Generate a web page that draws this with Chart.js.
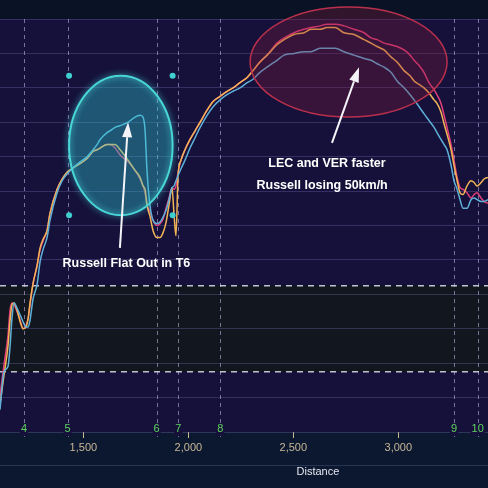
<!DOCTYPE html>
<html>
<head>
<meta charset="utf-8">
<script src="https://cdn.jsdelivr.net/npm/chart.js@4.4.1/dist/chart.umd.min.js"></script>
<style>
  html, body { margin: 0; padding: 0; background: #0b1830; }
  #wrap { width: 488px; height: 488px; }
</style>
</head>
<body>
<div id="wrap"><canvas id="speedChart" width="488" height="488"></canvas></div>
<script>
// Telemetry data (distance in m, speed in km/h)
const distance = [1103,1122,1141,1151,1160,1170,1184,1199,1213,1227,1237,1246,1260,1280,1294,1308,1327,1341,1375,1399,
  1422,1446,1484,1518,1546,1565,1580,1613,1627,1651,1675,1713,1746,1770,1784,1794,1803,1818,1832,1851,
  1865,1880,1894,1908,1922,1932,1941,1951,1965,1984,2008,2032,2056,2089,2118,2151,2184,2213,2246,2280,
  2308,2341,2375,2422,2456,2503,2551,2584,2627,2660,2699,2741,2789,2837,2870,2899,2932,2965,2994,3027,
  3056,3075,3099,3122,3146,3170,3184,3203,3218,3232,3251,3265,3280,3294,3308,3327,3346,3361,3375,3394,
  3408,3427];
const lecSpeed = [101,119,136,151,155,154,150,145,140,142,146,154,166,177,186,191,197,207,221,227,
  230,233,236,239,243,244,245,247,247,245,241,237,232,227,223,219,212,208,203,200,
  201,204,210,216,222,221,223,231,238,244,250,255,260,267,272,275,278,280,283,286,
  290,295,299,306,309,312,314,315,316,317,317,316,314,312,309,308,306,305,304,302,
  299,296,293,289,283,279,276,271,264,257,247,238,228,222,221,219,216,218,219,216,
  214,213];
const verSpeed = [96,113,130,145,154,155,151,144,140,141,146,155,166,177,187,192,197,207,221,227,
  231,233,236,239,243,244,245,247,247,247,244,238,232,228,223,221,212,205,197,193,
  193,196,202,212,222,206,194,229,238,244,250,255,260,267,272,275,278,280,283,286,
  290,295,299,305,308,311,312,314,314,315,315,312,311,308,306,304,302,298,295,290,
  287,284,282,280,277,273,271,266,259,253,244,235,226,219,218,223,226,225,223,225,
  227,228];
const rusSpeed = [93,115,118,130,146,155,152,148,144,141,141,145,157,166,179,186,193,203,219,226,
  230,233,237,240,244,247,250,254,255,257,258,260,263,264,263,255,232,211,203,201,
  202,205,209,215,222,223,226,229,233,238,245,251,257,264,269,273,276,278,280,283,
  285,289,292,296,299,300,301,301,303,303,303,301,299,297,296,294,292,289,284,280,
  276,273,269,265,261,257,254,250,247,244,235,226,221,215,210,210,215,216,215,214,
  214,215];

const distanceTicks = [1500, 2000, 2500, 3000];
const turnLabels = ['4', '5', '6', '7', '8', '9', '10'];
const turnDistance = [1217, 1425, 1849, 1952, 2152, 3265, 3378];

const bandLow = 115;
const bandHigh = 165;

// annotation shapes, in data units
const flatOutBox = { x1: 1432, x2: 1925, y1: 287, y2: 206 };
const fasterBox = { x1: 2294, x2: 3232, y1: 327, y2: 263 };

function toPoints(speeds) {
    return distance.map((d, i) => ({ x: d, y: speeds[i] }));
}

function drawArrow(ctx, x0, y0, x1, y1) {
    const ang = Math.atan2(y1 - y0, x1 - x0);
    const headLen = 15, headW = 5;
    ctx.strokeStyle = '#f4f4f8';
    ctx.fillStyle = '#f4f4f8';
    ctx.lineWidth = 2;
    ctx.beginPath();
    ctx.moveTo(x0, y0);
    ctx.lineTo(x1 - Math.cos(ang) * headLen, y1 - Math.sin(ang) * headLen);
    ctx.stroke();
    ctx.beginPath();
    ctx.moveTo(x1, y1);
    ctx.lineTo(x1 - Math.cos(ang) * headLen - Math.sin(ang) * headW, y1 - Math.sin(ang) * headLen + Math.cos(ang) * headW);
    ctx.lineTo(x1 - Math.cos(ang) * headLen + Math.sin(ang) * headW, y1 - Math.sin(ang) * headLen - Math.cos(ang) * headW);
    ctx.closePath();
    ctx.fill();
}

function ellipse(ctx, xs, ys, box) {
    const a = xs.getPixelForValue(box.x1), b = xs.getPixelForValue(box.x2);
    const c = ys.getPixelForValue(box.y1), d = ys.getPixelForValue(box.y2);
    ctx.beginPath();
    ctx.ellipse((a + b) / 2, (c + d) / 2, Math.abs(b - a) / 2, Math.abs(d - c) / 2, 0, 0, Math.PI * 2);
    return [a, b, c, d];
}

const backdrop = {
    id: 'backdrop',
    beforeDraw(chart) {
        const { ctx, chartArea: ca, scales } = chart;
        const y = scales.y;
        ctx.save();
        ctx.fillStyle = '#0b1830';
        ctx.fillRect(0, 0, chart.width, chart.height);
        ctx.fillStyle = '#0a1326';
        ctx.fillRect(0, 0, chart.width, ca.top);
        ctx.fillStyle = '#15113a';
        ctx.fillRect(ca.left, ca.top, ca.width, ca.height);
        ctx.fillStyle = '#12171f';
        const yh = y.getPixelForValue(bandHigh), yl = y.getPixelForValue(bandLow);
        ctx.fillRect(ca.left, yh, ca.width, yl - yh);
        ctx.strokeStyle = 'rgba(120,140,180,0.25)';
        ctx.lineWidth = 1;
        ctx.beginPath();
        ctx.moveTo(0, 465.5); ctx.lineTo(chart.width, 465.5);
        ctx.stroke();
        ctx.restore();
    },
    beforeDatasetsDraw(chart) {
        const { ctx, chartArea: ca, scales } = chart;
        const x = scales.x;
        ctx.save();
        ctx.setLineDash([4, 4]);
        ctx.strokeStyle = 'rgba(190,180,225,0.6)';
        ctx.lineWidth = 1;
        turnDistance.forEach(d => {
            const px = Math.round(x.getPixelForValue(d)) + 0.5;
            ctx.beginPath();
            ctx.moveTo(px, ca.top);
            ctx.lineTo(px, ca.bottom + 5);
            ctx.stroke();
        });
        ctx.setLineDash([]);
        ctx.font = '11px "Liberation Sans", Arial, sans-serif';
        ctx.textAlign = 'center';
        ctx.textBaseline = 'middle';
        turnDistance.forEach((d, i) => {
            const px = x.getPixelForValue(d);
            ctx.fillStyle = '#15113a';
            const w = ctx.measureText(turnLabels[i]).width;
            ctx.fillRect(px - w / 2 - 1, ca.bottom - 9, w + 2, 13);
            ctx.fillStyle = '#5fd35f';
            ctx.fillText(turnLabels[i], px, ca.bottom - 3);
        });
        // band borders
        const y = scales.y;
        ctx.setLineDash([6, 5]);
        ctx.strokeStyle = 'rgba(225,225,235,0.85)';
        ctx.lineWidth = 1.5;
        [bandHigh, bandLow].forEach(v => {
            const py = y.getPixelForValue(v);
            ctx.beginPath();
            ctx.moveTo(ca.left, py);
            ctx.lineTo(ca.right, py);
            ctx.stroke();
        });
        ctx.restore();
    },
    afterDatasetsDraw(chart) {
        const { ctx, scales } = chart;
        const x = scales.x, y = scales.y;
        ctx.save();
        // Russell flat out ellipse
        ellipse(ctx, x, y, flatOutBox);
        ctx.fillStyle = 'rgba(45,200,210,0.38)';
        ctx.fill();
        ctx.shadowColor = 'rgba(80,230,230,0.9)';
        ctx.shadowBlur = 6;
        ctx.strokeStyle = '#48d6d6';
        ctx.lineWidth = 2;
        ctx.stroke();
        ctx.shadowBlur = 0;
        const [a, b, c, d] = ellipse(ctx, x, y, flatOutBox);
        ctx.fillStyle = '#3fcfcf';
        [[a, c], [b, c], [a, d], [b, d]].forEach(p => {
            ctx.beginPath();
            ctx.arc(p[0], p[1], 3, 0, Math.PI * 2);
            ctx.fill();
        });
        // LEC/VER faster ellipse
        ellipse(ctx, x, y, fasterBox);
        ctx.fillStyle = 'rgba(140,25,60,0.3)';
        ctx.fill();
        ctx.strokeStyle = '#b8304c';
        ctx.lineWidth = 1.5;
        ctx.stroke();
        // arrows
        drawArrow(ctx, x.getPixelForValue(1674), y.getPixelForValue(187), x.getPixelForValue(1713), y.getPixelForValue(260));
        drawArrow(ctx, x.getPixelForValue(2684), y.getPixelForValue(248), x.getPixelForValue(2813), y.getPixelForValue(292));
        // notes
        ctx.fillStyle = '#ffffff';
        ctx.font = 'bold 12.5px "Liberation Sans", Arial, sans-serif';
        ctx.textAlign = 'center';
        ctx.textBaseline = 'middle';
        ctx.fillText('Russell Flat Out in T6', x.getPixelForValue(1705), y.getPixelForValue(178));
        ctx.fillText('LEC and VER faster', x.getPixelForValue(2660), y.getPixelForValue(236));
        ctx.fillText('Russell losing 50km/h', x.getPixelForValue(2637), y.getPixelForValue(223));
        // axis title
        ctx.fillStyle = '#e6e6ee';
        ctx.font = '11px "Liberation Sans", Arial, sans-serif';
        ctx.fillText('Distance', x.getPixelForValue(2617), 472);
        ctx.restore();
    }
};

const lineStyle = { borderWidth: 1.5, pointRadius: 0, cubicInterpolationMode: 'monotone', fill: false };

new Chart(document.getElementById('speedChart'), {
    type: 'line',
    data: {
        datasets: [
            { label: 'RUS', data: toPoints(rusSpeed), borderColor: '#5fb0d8', ...lineStyle },
            { label: 'VER', data: toPoints(verSpeed), borderColor: '#f2b456', ...lineStyle },
            { label: 'LEC', data: toPoints(lecSpeed), borderColor: '#e2407a', ...lineStyle }
        ]
    },
    options: {
        responsive: false,
        animation: false,
        layout: { padding: { top: 19, left: 0, right: 0, bottom: 0 } },
        plugins: { legend: { display: false }, tooltip: { enabled: false } },
        scales: {
            x: {
                type: 'linear',
                min: 1103,
                max: 3427,
                border: { display: false },
                grid: { drawOnChartArea: false, drawTicks: true, tickLength: 6, color: '#c9b796' },
                ticks: {
                    color: '#c9b796',
                    padding: 3,
                    font: { size: 11, family: '"Liberation Sans", Arial, sans-serif' }
                },
                afterBuildTicks: s => { s.ticks = distanceTicks.map(v => ({ value: v })); },
                afterFit: s => { s.height = 56; s.paddingLeft = 0; s.paddingRight = 0; }
            },
            y: {
                min: 80,
                max: 320,
                border: { display: false },
                grid: { color: 'rgba(125,115,185,0.32)', drawTicks: false },
                ticks: { stepSize: 20, display: false },
                afterFit: s => { s.width = 0; }
            }
        }
    },
    plugins: [backdrop]
});
</script>
</body>
</html>
